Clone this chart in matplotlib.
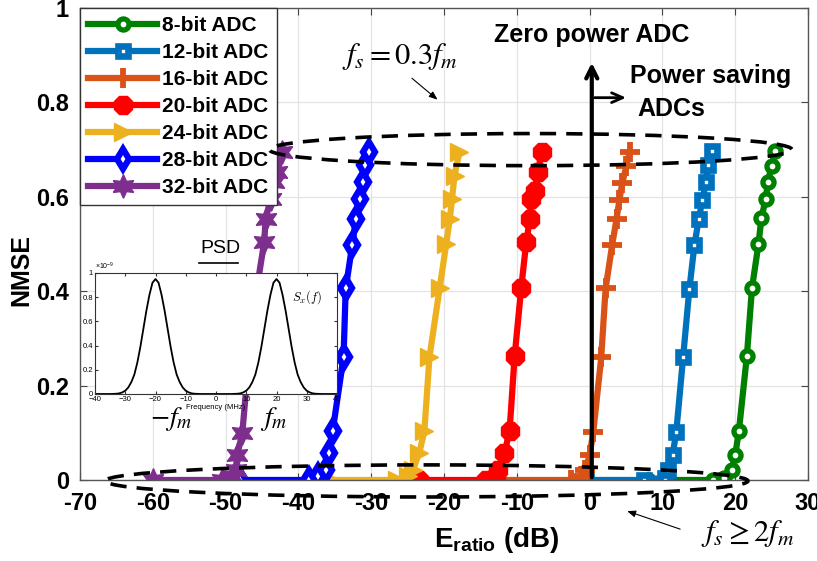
import numpy as np
import matplotlib
matplotlib.use('Agg')
import matplotlib.pyplot as plt
from matplotlib.patches import Ellipse
from matplotlib.lines import Line2D
from matplotlib.ticker import FuncFormatter

plt.rcParams['font.family'] = ['Liberation Sans', 'DejaVu Sans']
plt.rcParams['mathtext.fontset'] = 'custom'
plt.rcParams['mathtext.rm'] = 'Liberation Sans'
plt.rcParams['mathtext.bf'] = 'Liberation Sans:bold'
plt.rcParams['mathtext.it'] = 'Liberation Sans:italic'

# ---------------- data ----------------
labels = ['8-bit ADC', '12-bit ADC', '16-bit ADC', '20-bit ADC',
          '24-bit ADC', '28-bit ADC', '32-bit ADC']
colors = ['#008000', '#0072BD', '#D95319', '#FF0000',
          '#EDB120', '#0000FF', '#7E2F8E']

x_8 = [8.0, 17.0, 18.5, 19.5, 20.0, 20.5, 21.6, 22.3, 23.2, 23.6, 24.2, 24.5, 25.0, 25.5]
y_8 = [0.0, 0.0, 0.005, 0.021, 0.053, 0.103, 0.262, 0.406, 0.500, 0.555, 0.596, 0.632, 0.666, 0.696]
x_12 = [-0.5, 7.5, 10.3, 10.8, 11.4, 11.9, 12.85, 13.7, 14.4, 15.0, 15.5, 16.0, 16.3, 16.75]
y_12 = [0.0, 0.0, 0.005, 0.021, 0.053, 0.101, 0.261, 0.404, 0.498, 0.553, 0.594, 0.631, 0.667, 0.696]
x_16 = [-12.0, -2.5, -1.2, -0.6, 0.0, 0.5, 1.6, 2.2, 3.1, 3.7, 4.1, 4.5, 5.05, 5.5]
y_16 = [0.0, 0.0, 0.008, 0.021, 0.053, 0.101, 0.260, 0.406, 0.498, 0.553, 0.594, 0.630, 0.665, 0.694]
x_20 = [-23.5, -14.2, -12.8, -12.6, -11.7, -11.0, -10.3, -9.4, -8.7, -8.2, -8.0, -7.55, -7.1, -6.6]
y_20 = [0.0, 0.0, 0.008, 0.021, 0.057, 0.103, 0.262, 0.406, 0.504, 0.553, 0.596, 0.613, 0.652, 0.695]
x_24 = [-35.5, -26.5, -25.0, -24.3, -23.4, -22.7, -22.0, -20.6, -19.7, -19.2, -18.9, -18.55, -17.9]
y_24 = [0.0, 0.0, 0.008, 0.021, 0.057, 0.103, 0.260, 0.406, 0.500, 0.553, 0.596, 0.645, 0.694]
x_28 = [-48.0, -38.5, -37.3, -36.2, -35.8, -35.3, -33.8, -33.5, -32.6, -32.1, -31.5, -31.1, -30.8, -30.25]
y_28 = [0.0, 0.0, 0.008, 0.021, 0.057, 0.103, 0.260, 0.406, 0.498, 0.553, 0.596, 0.631, 0.667, 0.694]
x_32 = [-60.0, -50.5, -49.1, -48.6, -48.4, -47.7, -46.8, -45.7, -44.7, -44.5, -43.8, -43.4, -42.9, -42.2]
y_32 = [0.0, 0.0, 0.008, 0.021, 0.053, 0.100, 0.260, 0.406, 0.504, 0.553, 0.596, 0.631, 0.652, 0.695]

series_x = [x_8, x_12, x_16, x_20, x_24, x_28, x_32]
series_y = [y_8, y_12, y_16, y_20, y_24, y_28, y_32]

x_ticks = [-70, -60, -50, -40, -30, -20, -10, 0, 10, 20, 30]
y_ticks = [0, 0.2, 0.4, 0.6, 0.8, 1]
y_ticklabels = ['0', '0.2', '0.4', '0.6', '0.8', '1']

# inset PSD: peak profile (x1e-9) read at 1 MHz offsets from each peak centre
psd_centres = [-20, 20]
psd_profile = [0.95, 0.92, 0.82, 0.69, 0.54, 0.39, 0.26, 0.16, 0.098,
               0.054, 0.027, 0.013, 0.005, 0.002, 0.001]
psd_freq = np.arange(-40, 41, 1)

# ---------------- styles ----------------
styles = [
    dict(marker='o', ms=8, mfc='white', mew=3.8),
    dict(marker='s', ms=7.5, mfc='white', mew=4.8),
    dict(marker='+', ms=14, mew=4.2),
    dict(marker='8', ms=14, mew=1),
    dict(marker='>', ms=13, mew=1),
    dict(marker='d', ms=10, mfc='white', mew=4.5),
    dict(marker=(6, 1, 0), ms=17, mew=1),
]

fig = plt.figure(figsize=(8.17, 5.61), dpi=100)
ax = fig.add_axes([80/817, (561-480)/561, (808-80)/817, (480-8)/561])

for xs, ys, lab, col, st in zip(series_x, series_y, labels, colors, styles):
    kw = dict(st)
    kw.setdefault('mfc', col)
    ax.plot(xs, ys, color=col, lw=4.5, mec=col, label=lab, **kw)

ax.set_xlim(-70, 30)
ax.set_ylim(0, 1)
ax.set_xticks(x_ticks)
ax.set_yticks(y_ticks)
ax.set_xticklabels([str(v) for v in x_ticks])
ax.set_yticklabels(y_ticklabels)
ax.grid(True, color='#e3e3e3', lw=0.9)
ax.set_axisbelow(True)
ax.tick_params(direction='in', top=True, right=True, length=5, color='#444444',
               labelsize=17)
ax.tick_params(axis='x', pad=9)
ax.tick_params(axis='y', pad=8)
for lbl in ax.get_xticklabels() + ax.get_yticklabels():
    lbl.set_fontweight('bold')
for sp in ax.spines.values():
    sp.set_color('#555555')
    sp.set_linewidth(1.0)

ax.set_ylabel('NMSE', fontsize=18, fontweight='bold')
ax.yaxis.set_label_coords(-0.064, 0.445)
ax.set_xlabel(r'E$_{\mathbf{ratio}}$ (dB)', fontsize=20, fontweight='bold')
ax.xaxis.set_label_coords(0.573, -0.095)

leg = ax.legend(loc='upper left', borderaxespad=0, fancybox=False, framealpha=1,
                edgecolor='#333333', prop=dict(size=15, weight='bold'),
                handlelength=3.3, handletextpad=0.25, labelspacing=0.38,
                borderpad=0.4)
leg.get_frame().set_linewidth(1.0)

# ellipses
e1 = Ellipse((-8.1, 0.70), 71.8, 0.068, fill=False, ec='black', lw=2.6,
             ls=(0, (4.5, 2.8)), zorder=8, clip_on=False)
e2 = Ellipse((-22.4, -0.002), 88.3, 0.068, fill=False, ec='black', lw=2.6,
             ls=(0, (4.5, 2.8)), zorder=8, clip_on=False)
ax.add_patch(e1)
ax.add_patch(e2)

# arrows and annotations
ax.annotate('', xy=(0.3, 0.89), xytext=(0.3, 0.0),
            arrowprops=dict(arrowstyle='->,head_length=0.8,head_width=0.4', lw=3, color='black'),
            zorder=9)
ax.annotate('', xy=(5.4, 0.81), xytext=(0.3, 0.81),
            arrowprops=dict(arrowstyle='->,head_length=0.8,head_width=0.35', lw=2, color='black'),
            zorder=9)
ax.text(0.3, 0.943, 'Zero power ADC', fontsize=18, fontweight='bold',
        ha='center', va='center', zorder=9)
ax.text(5.6, 0.855, 'Power saving', fontsize=18, fontweight='bold',
        ha='left', va='center', zorder=9)
ax.text(6.6, 0.787, 'ADCs', fontsize=18, fontweight='bold',
        ha='left', va='center', zorder=9)

ax.text(-26.0, 0.898, r'$f_s = 0.3f_m$', fontsize=22, ha='center', va='center',
        math_fontfamily='stix')
ax.annotate('', xy=(-20.6, 0.802), xytext=(-24.7, 0.855),
            arrowprops=dict(arrowstyle='-|>,head_length=0.5,head_width=0.2', lw=0.8, color='black'))
ax.text(21.7, -0.113, r'$f_s \geq 2f_m$', fontsize=22, ha='center', va='center',
        math_fontfamily='stix', clip_on=False)
ax.annotate('', xy=(4.8, -0.064), xytext=(12.8, -0.106),
            arrowprops=dict(arrowstyle='-|>,head_length=0.5,head_width=0.2', lw=0.8, color='black'),
            annotation_clip=False)

ax.text(-57.5, 0.13, r'$-f_m$', fontsize=20, ha='center', va='center',
        math_fontfamily='stix', zorder=12)
ax.text(-43.4, 0.13, r'$f_m$', fontsize=20, ha='center', va='center',
        math_fontfamily='stix', zorder=12)
ax.text(-50.7, 0.49, 'PSD', fontsize=14, ha='center', va='center', zorder=12)
fig.add_artist(Line2D([199/817, 238/817], [1-263/561, 1-263/561], color='black', lw=1.2))

# inset
psd = np.zeros(len(psd_freq))
for c in psd_centres:
    for i, f in enumerate(psd_freq):
        d = int(abs(f - c))
        if d < len(psd_profile):
            psd[i] = psd_profile[d]
ins = fig.add_axes([95/817, (561-394)/561, 242/817, 121/561], zorder=10)
ins.plot(psd_freq, psd * 1e-9, color='black', lw=1.3)
ins.set_xlim(-40, 40)
ins.set_ylim(0, 1e-9)
ins.set_xticks([-40, -30, -20, -10, 0, 10, 20, 30, 40])
ins.set_yticks([0, 0.2e-9, 0.4e-9, 0.6e-9, 0.8e-9, 1e-9])
ins.yaxis.set_major_formatter(FuncFormatter(lambda v, p: '%g' % round(v * 1e9, 3)))
ins.tick_params(direction='in', top=True, right=True, length=2.5, labelsize=5.5, pad=1.5,
                color='#333333')
ins.set_xlabel('Frequency (MHz)', fontsize=5.5, labelpad=0.5)
ins.text(0.0, 1.01, r'$\times10^{-9}$', transform=ins.transAxes, fontsize=5,
         ha='left', va='bottom')
ins.text(30, 0.8e-9, r'$S_x(f)$', fontsize=9, ha='center', va='center',
         math_fontfamily='cm')
for sp in ins.spines.values():
    sp.set_color('#333333')
    sp.set_linewidth(0.8)

fig.savefig('out.png', dpi=100)
